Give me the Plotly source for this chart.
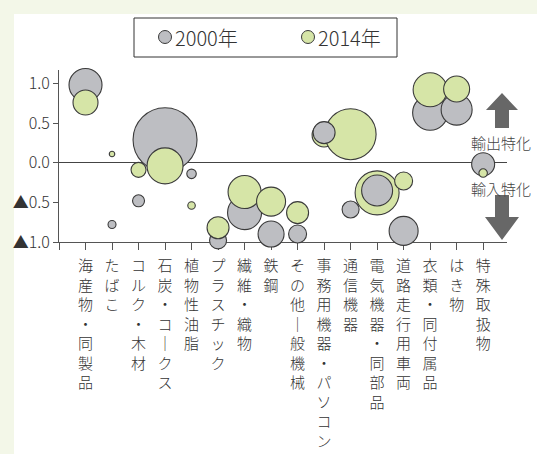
import plotly.graph_objects as go

categories = ["海産物・同製品", "たばこ", "コルク・木材", "石炭・コークス", "植物性油脂",
              "プラスチック", "繊維・織物", "鉄鋼", "その他一般機械", "事務用機器・パソコン",
              "通信機器", "電気機器・同部品", "道路走行用車両", "衣類・同付属品", "はき物", "特殊取扱物"]
y_2000 = [0.98, -0.78, -0.48, 0.29, -0.14, -0.98, -0.63, -0.90, -0.90, 0.38,
          -0.59, -0.35, -0.86, 0.63, 0.67, -0.02]
size_2000 = [33, 8, 12, 64, 9.5, 17, 34, 26, 18, 22, 17, 31, 29, 35, 31, 23]
y_2014 = [0.76, 0.11, -0.09, -0.04, -0.54, -0.82, -0.37, -0.49, -0.63, 0.35,
          0.36, -0.38, -0.23, 0.92, 0.93, -0.13]
size_2014 = [25, 5.5, 15, 36, 7.5, 22, 33, 29, 22, 24, 51, 44, 18, 34, 26, 8.5]
front_2000 = ["事務用機器・パソコン", "電気機器・同部品"]
ytick_vals = [1.0, 0.5, 0.0, -0.5, -1.0]
ytick_text = ["1.0", "0.5", "0.0", "▲0.5", "▲1.0"]
series_names = ["2000年", "2014年"]

GRAY = "#bdbec2"
GREEN = "#d6e5a7"
EDGE = "#3a3a3a"
TXT = "#333333"
FONT = "Noto Sans CJK JP"

W, H = 537, 454
L, R, T, B = 59, 30, 70, 212
PW, PH = W - L - R, H - T - B


def px(xp):
    return (xp - L) / PW


def py(yp):
    return 1 - (yp - T) / PH


def vertical(s):
    return "<br>".join(s.replace("ー", "｜").replace("一", "｜"))


idx = list(range(len(categories)))
fig = go.Figure()

back = [i for i in idx if categories[i] not in front_2000]
front = [i for i in idx if categories[i] in front_2000]


def bubble(ids, ys, ss, color, name):
    return go.Scatter(
        x=[i for i in ids], y=[ys[i] for i in ids],
        mode="markers", name=name, showlegend=False, cliponaxis=False,
        marker=dict(size=[ss[i] for i in ids], sizemode="diameter", sizeref=1,
                    color=color, opacity=1, line=dict(color=EDGE, width=1.1)),
        hovertext=[categories[i] for i in ids],
    )


fig.add_trace(bubble(back, y_2000, size_2000, GRAY, series_names[0]))
fig.add_trace(bubble(idx, y_2014, size_2014, GREEN, series_names[1]))
fig.add_trace(bubble(front, y_2000, size_2000, GRAY, series_names[0]))

shapes = []
annotations = []

# white panel
shapes.append(dict(type="rect", xref="paper", yref="paper", layer="below",
                   x0=px(14), x1=px(W + 2), y0=py(H + 2), y1=py(14),
                   fillcolor="white", line=dict(width=0)))

# legend box
shapes.append(dict(type="rect", xref="paper", yref="paper",
                   x0=px(134), x1=px(397), y0=py(57), y1=py(18),
                   fillcolor="white", line=dict(color=TXT, width=1)))
for cx, col, label in [(165, GRAY, series_names[0]), (308, GREEN, series_names[1])]:
    r = 6.5
    shapes.append(dict(type="circle", xref="paper", yref="paper",
                       x0=px(cx - r), x1=px(cx + r), y0=py(37 + r), y1=py(37 - r),
                       fillcolor=col, line=dict(color=EDGE, width=1)))
    annotations.append(dict(xref="paper", yref="paper", x=px(cx + 8), y=py(37.5),
                            text=label, showarrow=False, xanchor="left", yanchor="middle",
                            font=dict(size=20, color=TXT, family=FONT, weight=300)))

ARROW = "#676767"


def path(points):
    return "M " + " L ".join(f"{px(a):.5f},{py(b):.5f}" for a, b in points) + " Z"


up = [(502, 93), (518, 110), (509, 110), (509, 128), (495, 128), (495, 110), (486, 110)]
down = [(495, 195), (509, 195), (509, 217), (519, 217), (502, 240), (485, 217), (495, 217)]
for pts in (up, down):
    shapes.append(dict(type="path", xref="paper", yref="paper", path=path(pts),
                       fillcolor=ARROW, line=dict(width=0)))
for text, yy in [("輸出特化", 142), ("輸入特化", 188)]:
    annotations.append(dict(xref="paper", yref="paper", x=px(501), y=py(yy), text=text,
                            showarrow=False, xanchor="center", yanchor="middle",
                            font=dict(size=15, color="#444444", family=FONT, weight=300)))

fig.update_layout(
    width=W, height=H,
    margin=dict(l=L, r=R, t=T, b=B, pad=0, autoexpand=False),
    paper_bgcolor="#f3f7e8", plot_bgcolor="rgba(0,0,0,0)",
    showlegend=False,
    font=dict(family=FONT, color=TXT),
    shapes=shapes, annotations=annotations,
    xaxis=dict(range=[-1.0, 15.9], tickmode="array", tickvals=[-1] + idx,
               ticktext=[""] + [vertical(c) for c in categories],
               ticks="outside", ticklen=7, tickcolor="#555555", tickwidth=1,
               showline=True, linecolor="#555555", linewidth=1,
               showgrid=False, zeroline=False, layer="below traces",
               ticklabelstandoff=3, automargin=False,
               tickfont=dict(size=15, color=TXT, family=FONT, weight=300), tickangle=0,
               fixedrange=True),
    yaxis=dict(range=[-1.0, 1.17], tickmode="array", tickvals=ytick_vals,
               ticktext=ytick_text, ticks="outside", ticklen=5, tickcolor="#555555",
               showline=True, linecolor="#555555", linewidth=1, showgrid=False,
               zeroline=True, zerolinecolor="#444444", zerolinewidth=1,
               layer="below traces", automargin=False,
               tickfont=dict(size=16, color=TXT, family=FONT, weight=300),
               fixedrange=True),
)

fig.write_html("out.html", post_script="document.body.style.margin='0';",
               config={"displayModeBar": False})
